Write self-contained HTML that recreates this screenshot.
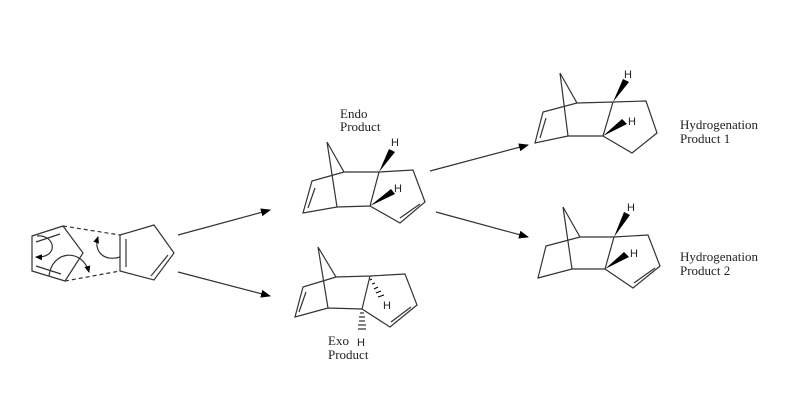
<!DOCTYPE html>
<html><head><style>body{margin:0;background:#fff}svg{display:block}text{font-family:"Liberation Serif",serif;font-size:13px;fill:#222}.h{font-family:"Liberation Sans",sans-serif;font-size:11px}</style></head><body>
<svg width="800" height="418" viewBox="0 0 800 418" xmlns="http://www.w3.org/2000/svg">
<defs><marker id="a" markerWidth="10" markerHeight="8" refX="9" refY="4" orient="auto" markerUnits="userSpaceOnUse"><path d="M0,0 L10,4 L0,8 Z" fill="#000"/></marker>
<marker id="b" markerWidth="7" markerHeight="6" refX="6" refY="3" orient="auto" markerUnits="userSpaceOnUse"><path d="M0,0 L7,3 L0,6 Z" fill="#000"/></marker></defs>
<g stroke="#333" stroke-width="1.2" fill="none">
<!-- reactants -->
<path d="M32,236 L63,226 L83,253 L65,281 L32,271 Z"/>
<path d="M36,242 L60,234 M36,266 L61,274"/>
<path d="M63,226 L120,235 M65,281 L120,271" stroke-dasharray="4,3"/>
<path d="M120,235 L154,225 L174,253 L154,280 L120,271 Z"/>
<path d="M126,239 L126,267 M168,255 L151,276"/>
<path d="M37,236 C55,234 60,258 36,257" marker-end="url(#b)"/>
<path d="M49,276 C52,250 82,248 89,272" marker-end="url(#b)"/>
<path d="M120,257 C105,262 93,252 98,237" marker-end="url(#b)"/>
<!-- arrows -->
<path d="M178,235 L270,210" marker-end="url(#a)"/>
<path d="M178,272 L270,296" marker-end="url(#a)"/>
<path d="M430,171 L528,145" marker-end="url(#a)"/>
<path d="M436,212 L528,237" marker-end="url(#a)"/>
<!-- endo -->
<path d="M327,142 L344,172 L379,172 L370,206 L337,207 L303,213 L312,181 L344,172 M327,142 L337,207 M379,172 L413,170 L425,202 L400,223 L370,206"/>
<path d="M315,188 L308,208 M420,204 L400,218"/>
<!-- exo -->
<path d="M318,247 L336,277 L370,276 L362,309 L328,308 L295,317 L303,287 L336,277 M318,247 L328,308 M370,276 L405,274 L417,305 L390,327 L362,309"/>
<path d="M306,292 L299,312 M411,307 L391,322"/>
<!-- h1 -->
<path d="M560,73 L577,103 L613,102 L603,136 L568,136 L535,143 L543,112 L577,103 M560,73 L568,136 M613,102 L646,101 L657,133 L632,153 L603,136"/>
<path d="M546,118 L540,138"/>
<!-- h2 -->
<path d="M563,207 L580,237 L614,237 L605,269 L572,269 L538,278 L546,246 L580,237 M563,207 L572,269 M614,237 L648,235 L660,266 L633,288 L605,269"/>
<path d="M655,268 L634,283"/>
</g>
<!-- wedges -->
<g fill="#000">
<path d="M379,172 L389,149 L395,152 Z"/>
<path d="M370,206 L391,189 L395,194 Z"/>
<path d="M613,102 L623,79 L629,82 Z"/>
<path d="M603,136 L622,119 L627,124 Z"/>
<path d="M614,237 L624,212 L630,215 Z"/>
<path d="M605,269 L624,252 L629,257 Z"/>
</g>
<g stroke="#000" stroke-width="1">
<path d="M372,279 L370,280 M375,283 L372,284 M378,287 L374,289 M381,291 L376,293 M384,295 L378,297"/>
<path d="M360,313 L364,313 M359,317 L365,317 M359,321 L365,321 M358,325 L366,325 M358,329 L366,329"/>
</g>
<text x="340" y="118">Endo</text><text x="340" y="131">Product</text>
<text x="328" y="345">Exo</text><text x="328" y="359">Product</text>
<text x="680" y="129">Hydrogenation</text><text x="680" y="143">Product 1</text>
<text x="680" y="261">Hydrogenation</text><text x="680" y="275">Product 2</text>
<g class="h"><text class="h" x="391" y="146">H</text><text class="h" x="394" y="192">H</text><text class="h" x="383" y="309">H</text><text class="h" x="357" y="346">H</text>
<text class="h" x="624" y="78">H</text><text class="h" x="628" y="125">H</text><text class="h" x="627" y="211">H</text><text class="h" x="630" y="257">H</text></g>
</svg>
</body></html>
